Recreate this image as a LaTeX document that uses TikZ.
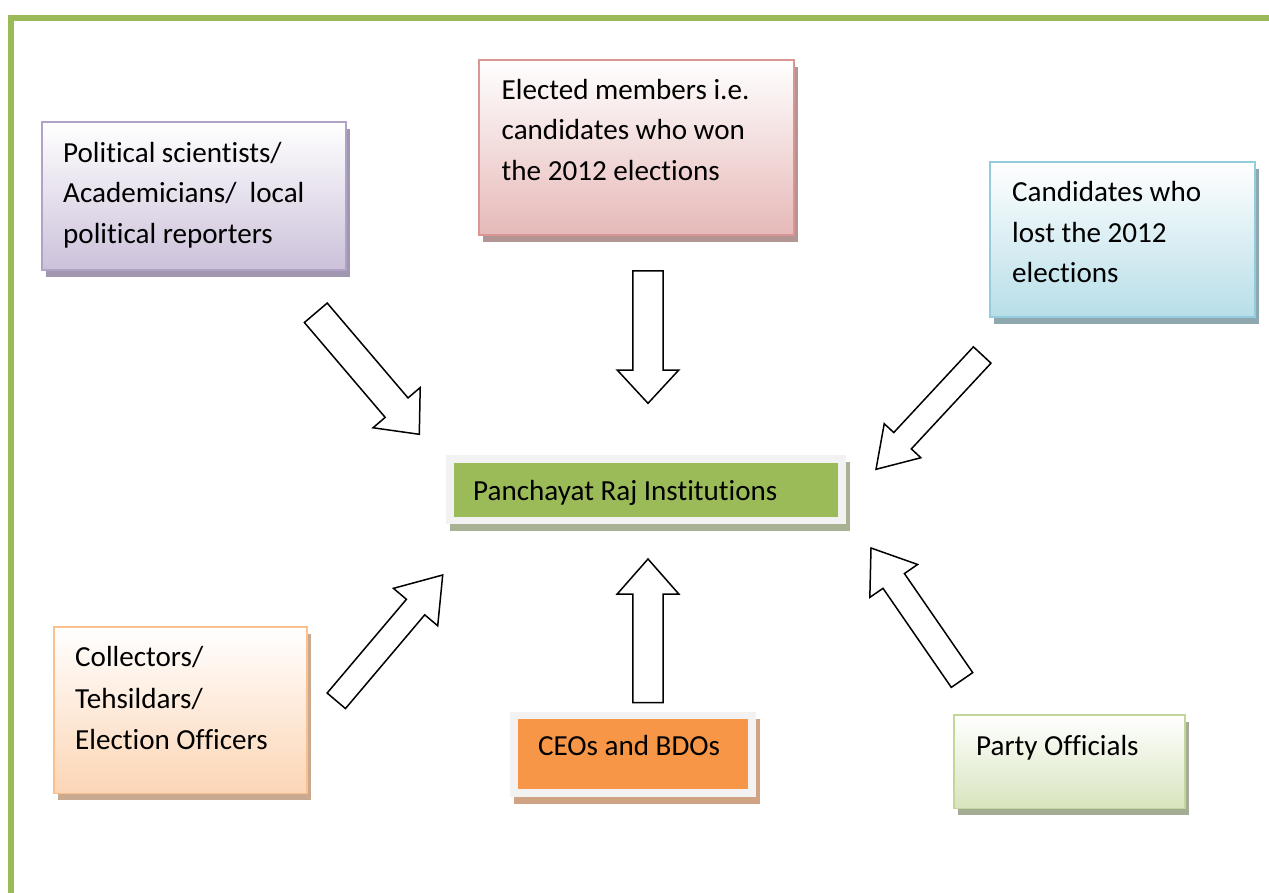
\documentclass[tikz,border=0pt]{standalone}
\usepackage{fontspec}
\setmainfont{Carlito}[Ligatures={NoCommon}]
\usetikzlibrary{calc,fit}
\pgfdeclarelayer{bglayer}
\pgfdeclarelayer{shadowlayer}
\pgfsetlayers{bglayer,shadowlayer,main}

\definecolor{borderGreen}{HTML}{9BBB59}
\definecolor{purpB}{HTML}{B2A2C7}
\definecolor{purpF}{HTML}{CCC1DA}
\definecolor{purpS}{HTML}{A197B0}
\definecolor{pinkB}{HTML}{D99694}
\definecolor{pinkF}{HTML}{E6B9B8}
\definecolor{pinkS}{HTML}{B39594}
\definecolor{blueB}{HTML}{93CDDD}
\definecolor{blueF}{HTML}{B7DEE8}
\definecolor{blueS}{HTML}{8FA7AE}
\definecolor{peachB}{HTML}{FAC090}
\definecolor{peachF}{HTML}{FCD5B5}
\definecolor{peachS}{HTML}{C9A98F}
\definecolor{lgreenB}{HTML}{C3D69B}
\definecolor{lgreenF}{HTML}{D7E4BD}
\definecolor{lgreenS}{HTML}{A4AC94}
\definecolor{frameGray}{HTML}{F2F2F2}
\definecolor{centerF}{HTML}{9BBB59}
\definecolor{centerS}{HTML}{A9B195}
\definecolor{ceoF}{HTML}{F79646}
\definecolor{ceoS}{HTML}{CFA384}

\tikzset{
  pbox/.style 2 args={draw=#1, line width=1.6pt, top color=white, bottom color=#2, inner sep=0pt, outer sep=0pt},
  sbox/.style={draw=frameGray, line width=7.6pt, fill=#1, inner sep=0pt, outer sep=3.8pt},
  txt/.style={font=\fontsize{29.1}{40.5}\selectfont, inner sep=0pt, align=left, anchor=north west, text=black},
  barrowline/.style={draw=black, fill=white, line width=1.5pt, line join=miter},
  greenborder/.style={draw=borderGreen, line width=6pt},
}

\newcommand{\shadowfor}[2]{%
  \begin{pgfonlayer}{shadowlayer}
    \fill[#2] ([shift={(4pt,-7pt)}]#1.south west) rectangle ([shift={(4pt,-7pt)}]#1.north east);
  \end{pgfonlayer}}

% tail, tip, shaft half width, head half width, head length
\newcommand{\barrow}[5]{%
  \coordinate (#1h) at ($(#2)!#5pt!(#1)$);
  \draw[barrowline] ($(#1)!#3pt!90:(#2)$) -- ($(#1h)!#3pt!90:(#2)$) -- ($(#1h)!#4pt!90:(#2)$) -- (#2)
    -- ($(#1h)!#4pt!-90:(#2)$) -- ($(#1h)!#3pt!-90:(#2)$) -- ($(#1)!#3pt!-90:(#2)$) -- cycle;}

\begin{document}
\begin{tikzpicture}[x=1pt,y=-1pt]
\useasboundingbox (0,0) rectangle (1269,893);
\begin{pgfonlayer}{bglayer}
  \fill[white] (0,0) rectangle (1269,893);
\end{pgfonlayer}

% page border
\draw[greenborder] (10.7,893) -- (10.7,18.3) -- (1269,18.3);

% boxes
\node[pbox={purpB}{purpF}, fit={(42,122)(346,270)}] (pol) {};
\shadowfor{pol}{purpS}
\node[txt] (poltext) at (63,133.6) {\strut Political scientists/\\Academicians/\ \ local\\political reporters};

\node[pbox={pinkB}{pinkF}, fit={(479,60)(794,235)}] (won) {};
\shadowfor{won}{pinkS}
\node[txt] (wontext) at (501.5,70.6) {\strut Elected members i.e.\\candidates who won\\the 2012 elections};

\node[pbox={blueB}{blueF}, fit={(990,162)(1255,317)}] (lost) {};
\shadowfor{lost}{blueS}
\node[txt] (losttext) at (1012,173.3) {\strut Candidates who\\lost the 2012\\elections};

\node[pbox={peachB}{peachF}, fit={(54,627)(306.7,793.3)}] (col) {};
\shadowfor{col}{peachS}
\node[txt, font=\fontsize{29.1}{41.5}\selectfont] (coltext) at (75,637.7) {\strut Collectors/\\Tehsildars/\\Election Officers};

\node[pbox={lgreenB}{lgreenF}, fit={(954,715)(1185,808.3)}] (party) {};
\shadowfor{party}{lgreenS}
\node[txt] (partytext) at (976,726.6) {\strut Party Officials};

\node[sbox=centerF, fit={(449.7,458.9)(842.2,520.3)}] (pri) {};
\shadowfor{pri}{centerS}
\node[txt] (pritext) at (473,471.6) {\strut Panchayat Raj Institutions};

\node[sbox=ceoF, fit={(514.2,715.5)(752.2,793)}] (ceo) {};
\shadowfor{ceo}{ceoS}
\node[txt] (ceotext) at (538,726.6) {\strut CEOs and BDOs};

% arrow endpoints
\coordinate (ta) at (315.8,312.8);  \coordinate (pa) at (419.3,434.3);
\coordinate (tb) at (648,271);      \coordinate (pb) at (648,403.3);
\coordinate (tc) at (982.2,355);    \coordinate (pc) at (876,469.3);
\coordinate (td) at (336.3,700.8);  \coordinate (pd) at (442.7,575);
\coordinate (te) at (648,702.7);    \coordinate (pe) at (648,559);
\coordinate (tf) at (962,680);      \coordinate (pf) at (871,548);

\barrow{ta}{pa}{15}{31}{35}
\barrow{tb}{pb}{15.2}{30.8}{33.3}
\barrow{tc}{pc}{12}{25}{39}
\barrow{td}{pd}{12}{29}{42}
\barrow{te}{pe}{15.2}{30.8}{35}
\barrow{tf}{pf}{13}{29}{40}
\end{tikzpicture}
\end{document}
